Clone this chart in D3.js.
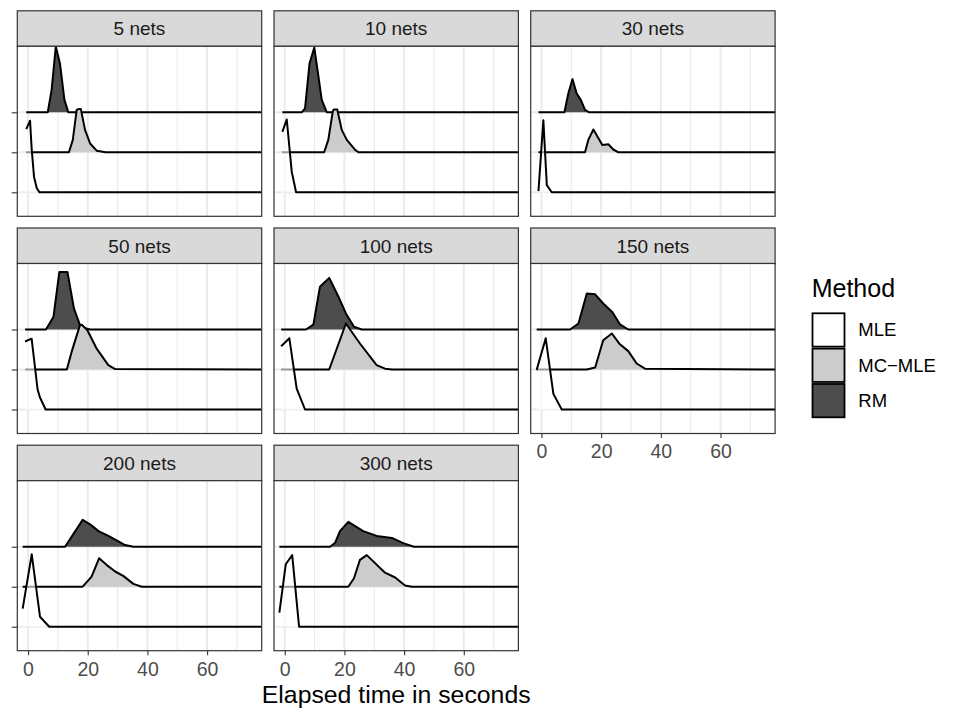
<!DOCTYPE html>
<html>
	<head>
		<meta charset="UTF-8" />
		<title>Elapsed time ridges</title>
		<script src="https://cdn.jsdelivr.net/npm/d3@7"></script>
		<style>
			body {
				margin: 0;
				background: #fff;
			}
			svg {
				display: block;
				font-family: "Liberation Sans", Arial, sans-serif;
			}
		</style>
	</head>
	<body>
		<svg width="959" height="719"></svg>

		<script>
			// facets, methods and axis ticks
			const panels = ["5 nets", "10 nets", "30 nets", "50 nets", "100 nets", "150 nets", "200 nets", "300 nets"];
			const methods = ["MLE", "MC-MLE", "RM"];
			const methodLabels = ["MLE", "MC\u2212MLE", "RM"];
			const xTicks = [0, 20, 40, 60];
			const xMinor = [10, 30, 50, 70];

			// ridge outlines: [seconds, scaled density], one list per panel
			const mleCurves = [
				[[-0.6, 1.58], [0.67, 1.79], [1.24, 1.06], [2.0, 0.39], [2.9, 0.11], [3.8, 0], [80, 0]],
				[[-0.8, 1.51], [0.67, 1.82], [2.35, 0.51], [3.8, 0], [80, 0]],
				[[-1.0, 0.03], [0.64, 1.8], [1.8, 0.18], [3.45, 0], [80, 0]],
				[[-1.0, 1.7], [1.2, 1.77], [3.2, 0.5], [4.0, 0.3], [5.9, 0], [80, 0]],
				[[-1.2, 1.58], [1.55, 1.78], [4.0, 0.52], [6.8, 0], [80, 0]],
				[[-1.6, 0.99], [1.44, 1.78], [4.0, 0.39], [6.8, 0], [80, 0]],
				[[-1.8, 0.45], [1.24, 1.81], [4.0, 0.25], [7.1, 0], [80, 0]],
				[[-1.8, 0.35], [0.34, 1.56], [2.5, 1.79], [4.8, 0], [80, 0]],
			];
			const mcmleCurves = [
				[[-0.6, 0], [13.7, 0], [15.0, 0.31], [16.3, 1.06], [16.9, 1.08], [17.7, 1.08], [19.1, 0.56], [20.8, 0.22], [23.0, 0.04], [26, 0], [80, 0]],
				[[-0.8, 0], [13.2, 0], [14.6, 0.31], [16.1, 1.02], [16.4, 1.07], [17.6, 1.07], [19.1, 0.56], [20.8, 0.31], [23.6, 0.06], [24.7, 0], [80, 0]],
				[[-1.0, 0], [14.6, 0], [15.7, 0.31], [17.4, 0.57], [19.1, 0.35], [20.4, 0.18], [22.4, 0.2], [24.1, 0.07], [25.8, 0], [80, 0]],
				[[-1.0, 0], [13.0, 0], [14.6, 0.44], [17.4, 1.11], [18.0, 1.12], [19.9, 0.98], [23.0, 0.52], [26.9, 0.11], [29.2, 0.01], [80, 0]],
				[[-1.2, 0], [14.9, 0], [20.5, 1.15], [25.2, 0.65], [30.8, 0.11], [33.6, 0.02], [36, 0], [80, 0]],
				[[-1.6, 0], [15.2, 0], [18.0, 0.05], [20.7, 0.73], [23.6, 0.9], [26.3, 0.63], [29.1, 0.46], [31.9, 0.15], [34.7, 0.02], [80, 0]],
				[[-1.8, 0], [18.3, 0], [21.3, 0.25], [23.8, 0.71], [26.4, 0.54], [29.2, 0.38], [31.9, 0.27], [35.3, 0.07], [38.1, 0], [80, 0]],
				[[-1.8, 0], [21.3, 0], [23.2, 0.21], [25.2, 0.67], [27.5, 0.79], [33.6, 0.35], [37.0, 0.23], [40.3, 0.03], [42.6, 0], [80, 0]],
			];
			const rmCurves = [
				[[-0.6, 0], [6.6, 0], [7.9, 0.56], [9.3, 1.64], [10.7, 1.22], [12.2, 0.31], [13.5, 0], [80, 0]],
				[[-0.8, 0], [5.7, 0], [6.8, 0.1], [8.3, 1.22], [9.9, 1.62], [11.3, 0.89], [12.4, 0.31], [14.1, 0], [80, 0]],
				[[-1.0, 0], [7.7, 0], [9.0, 0.47], [10.4, 0.83], [11.8, 0.47], [13.2, 0.31], [14.6, 0.06], [16.0, 0], [80, 0]],
				[[-1.0, 0], [6.0, 0], [8.5, 0.31], [10.5, 1.44], [13.2, 1.44], [15.4, 0.52], [17.4, 0.11], [19.1, 0.03], [20.8, 0], [80, 0]],
				[[-1.2, 0], [7.1, 0], [9.6, 0.12], [11.8, 1.07], [14.9, 1.29], [18.0, 0.82], [20.5, 0.4], [23.2, 0.07], [25.8, 0], [80, 0]],
				[[-1.6, 0], [9.6, 0], [12.4, 0.15], [15.2, 0.9], [18.0, 0.88], [20.7, 0.65], [23.8, 0.43], [26.3, 0.13], [29.1, 0], [80, 0]],
				[[-1.8, 0], [12.4, 0], [18.3, 0.67], [20.8, 0.56], [23.6, 0.39], [26.9, 0.27], [29.7, 0.16], [32.5, 0.04], [35.3, 0], [80, 0]],
				[[-1.8, 0], [15.2, 0], [16.9, 0.1], [18.5, 0.39], [21.3, 0.62], [26.3, 0.39], [30.8, 0.27], [35.9, 0.22], [39.7, 0.09], [43.3, 0], [80, 0]],
			];

			const curvesByMethod = { MLE: mleCurves, "MC-MLE": mcmleCurves, RM: rmCurves };
			const fillScale = d3.scaleOrdinal().domain(methods).range(["#ffffff", "#cccccc", "#4d4d4d"]);
			const levelScale = d3.scaleOrdinal().domain(methods).range([1, 2, 3]);

			// layout
			const left0 = 17.3, colStep = 256.7, panelW = 244.4;
			const top0 = 10.8, rowStep = 217.2, stripH = 35.5, panelH = 170;

			const svg = d3.select("svg");
			svg.append("rect").attr("width", 959).attr("height", 719).attr("fill", "#fff");

			const x = d3.scaleLinear().domain([-3.6, 78.3]).range([0, panelW]);
			const y = d3.scaleLinear().domain([0.4, 4.65]).range([panelH, 0]);

			svg.append("defs")
				.append("clipPath")
				.attr("id", "panel-clip")
				.append("rect")
				.attr("width", panelW)
				.attr("height", panelH);

			const area = d3
				.area()
				.x((d) => x(d[0]))
				.y1((d) => y(d.level + d[1]))
				.y0((d) => y(d.level));
			const line = d3
				.line()
				.x((d) => x(d[0]))
				.y((d) => y(d.level + d[1]));

			panels.forEach((name, i) => {
				const col = i % 3;
				const row = Math.floor(i / 3);
				const px = left0 + col * colStep;
				const stripTop = top0 + row * rowStep;
				const py = stripTop + stripH;

				// strip
				const strip = svg.append("g").attr("transform", `translate(${px},${stripTop})`);
				strip
					.append("rect")
					.attr("width", panelW)
					.attr("height", stripH)
					.attr("fill", "#d9d9d9")
					.attr("stroke", "#333333")
					.attr("stroke-width", 1.2);
				strip
					.append("text")
					.attr("x", panelW / 2)
					.attr("y", stripH / 2 + 6.8)
					.attr("text-anchor", "middle")
					.attr("fill", "#1a1a1a")
					.style("font-size", "19px")
					.text(name);

				const g = svg.append("g").attr("transform", `translate(${px},${py})`);
				g.append("rect").attr("width", panelW).attr("height", panelH).attr("fill", "#fff");

				// grid
				g.selectAll("line.minor")
					.data(xMinor)
					.join("line")
					.attr("x1", (d) => x(d))
					.attr("x2", (d) => x(d))
					.attr("y1", 0)
					.attr("y2", panelH)
					.attr("stroke", "#ebebeb")
					.attr("stroke-width", 1.1);
				g.selectAll("line.major")
					.data(xTicks)
					.join("line")
					.attr("x1", (d) => x(d))
					.attr("x2", (d) => x(d))
					.attr("y1", 0)
					.attr("y2", panelH)
					.attr("stroke", "#ebebeb")
					.attr("stroke-width", 2);
				g.selectAll("line.hmajor")
					.data(methods)
					.join("line")
					.attr("x1", 0)
					.attr("x2", panelW)
					.attr("y1", (d) => y(levelScale(d)))
					.attr("y2", (d) => y(levelScale(d)))
					.attr("stroke", "#ebebeb")
					.attr("stroke-width", 2);

				// ridges, top one first so lower ones sit in front
				const ridges = g.append("g").attr("clip-path", "url(#panel-clip)");
				methods
					.slice()
					.reverse()
					.forEach((m) => {
						const lvl = levelScale(m);
						const pts = curvesByMethod[m][i].map((p) => Object.assign([p[0], p[1]], { level: lvl }));
						ridges
							.append("path")
							.datum(pts)
							.attr("d", area)
							.attr("fill", fillScale(m))
							.attr("fill-opacity", m === "MLE" ? 0.6 : 1);
						ridges
							.append("path")
							.datum(pts)
							.attr("d", line)
							.attr("fill", "none")
							.attr("stroke", "#000")
							.attr("stroke-width", 2)
							.attr("stroke-linejoin", "round");
					});

				g.append("rect")
					.attr("width", panelW)
					.attr("height", panelH)
					.attr("fill", "none")
					.attr("stroke", "#333333")
					.attr("stroke-width", 1.2);

				// y ticks on the first column only
				if (col === 0) {
					const ya = g.append("g").call(
						d3
							.axisLeft(y)
							.tickValues(methods.map((m) => levelScale(m)))
							.tickSize(5.5)
							.tickFormat("")
					);
					ya.select(".domain").remove();
					ya.selectAll("line").attr("stroke", "#333333").attr("stroke-width", 1.1);
				}

				// x axis on the lowest panel of each column
				if (i + 3 >= panels.length) {
					const xa = g
						.append("g")
						.attr("transform", `translate(0,${panelH})`)
						.call(d3.axisBottom(x).tickValues(xTicks).tickSize(4.5).tickPadding(6.5));
					xa.select(".domain").remove();
					xa.selectAll("line").attr("stroke", "#333333").attr("stroke-width", 1.1);
					xa.selectAll("text")
						.attr("fill", "#4d4d4d")
						.style("font-size", "19.5px")
						.style("font-family", "'Liberation Sans', Arial, sans-serif");
				}
			});

			// axis title
			svg.append("text")
				.attr("x", left0 + (2 * colStep + panelW) / 2)
				.attr("y", 703)
				.attr("text-anchor", "middle")
				.attr("fill", "#000")
				.style("font-size", "24.8px")
				.text("Elapsed time in seconds");

			// legend
			const legend = svg.append("g");
			legend
				.append("text")
				.attr("x", 811.7)
				.attr("y", 296.7)
				.style("font-size", "25px")
				.text("Method");

			const keyY = d3.scaleBand().domain(methods).range([312.3, 418.3]);
			const keys = legend.selectAll("g.key").data(methods).join("g");
			keys.append("rect")
				.attr("x", 812.5)
				.attr("y", (d) => keyY(d) + 1)
				.attr("width", 32)
				.attr("height", keyY.bandwidth() - 2)
				.attr("fill", (d) => fillScale(d))
				.attr("stroke", "#000")
				.attr("stroke-width", 1.8);
			keys.append("text")
				.attr("x", 858.3)
				.attr("y", (d) => keyY(d) + keyY.bandwidth() / 2 + 6.5)
				.style("font-size", "18.5px")
				.text((d, i) => methodLabels[i]);
		</script>
	</body>
</html>
